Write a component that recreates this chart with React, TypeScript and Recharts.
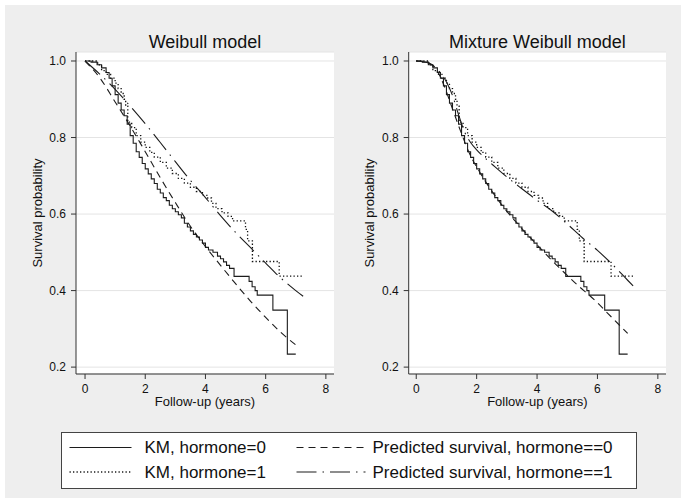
import React from 'react';
import { LineChart, Line, XAxis, YAxis, CartesianGrid } from 'recharts';

const FONT = '"Liberation Sans", Arial, Helvetica, sans-serif';
const INK = '#1c1c1c';

const xTicks = [0, 2, 4, 6, 8];
const yTicks = [0.2, 0.4, 0.6, 0.8, 1.0];

type Pt = [number, number];

// Kaplan-Meier estimates, [years, survival]
const km0: Pt[] = [
  [0, 1], [0.2, 0.997], [0.4, 0.99], [0.55, 0.982], [0.7, 0.97], [0.8, 0.955],
  [0.9, 0.935], [1.0, 0.912], [1.1, 0.89], [1.2, 0.872], [1.3, 0.857], [1.4, 0.835],
  [1.5, 0.805], [1.6, 0.785], [1.7, 0.763], [1.8, 0.748], [1.9, 0.732], [2.0, 0.718],
  [2.1, 0.705], [2.2, 0.692], [2.3, 0.68], [2.4, 0.665], [2.5, 0.655], [2.6, 0.643],
  [2.7, 0.635], [2.8, 0.623], [2.9, 0.614], [3.0, 0.606], [3.1, 0.598], [3.2, 0.59],
  [3.3, 0.576], [3.4, 0.566], [3.5, 0.556], [3.6, 0.547], [3.7, 0.54], [3.8, 0.532],
  [3.9, 0.524], [4.0, 0.513], [4.1, 0.506], [4.25, 0.5], [4.4, 0.49], [4.5, 0.483],
  [4.6, 0.475], [4.7, 0.466], [4.8, 0.458], [4.95, 0.437], [5.45, 0.424], [5.55, 0.41],
  [5.65, 0.4], [5.72, 0.388], [6.24, 0.349], [6.72, 0.234], [7.0, 0.234],
];

const km1: Pt[] = [
  [0, 1], [0.42, 0.99], [0.55, 0.975], [0.7, 0.965], [0.85, 0.955], [1.0, 0.942],
  [1.1, 0.928], [1.2, 0.915], [1.3, 0.9], [1.35, 0.882], [1.42, 0.84], [1.55, 0.826],
  [1.7, 0.805], [1.85, 0.788], [2.0, 0.774], [2.15, 0.761], [2.3, 0.749], [2.5, 0.735],
  [2.7, 0.72], [2.9, 0.706], [3.1, 0.693], [3.3, 0.681], [3.5, 0.67], [3.7, 0.659],
  [3.9, 0.649], [4.05, 0.642], [4.2, 0.628], [4.35, 0.614], [4.55, 0.603], [4.75, 0.594],
  [4.9, 0.582], [5.33, 0.56], [5.4, 0.53], [5.56, 0.476], [6.45, 0.438], [7.2, 0.438],
];

// Weibull model predictions
const weib0: Pt[] = [
  [0, 1], [0.5, 0.955], [1.0, 0.893], [1.5, 0.83], [2.0, 0.763], [2.5, 0.695],
  [3.0, 0.63], [3.5, 0.568], [4.0, 0.515], [4.5, 0.466], [5.0, 0.418], [5.5, 0.372],
  [6.0, 0.33], [6.5, 0.291], [7.0, 0.258],
];
const weib1: Pt[] = [
  [0, 1], [0.5, 0.965], [1.0, 0.926], [1.5, 0.882], [2.0, 0.836], [2.5, 0.787],
  [3.0, 0.737], [3.5, 0.688], [4.0, 0.643], [4.5, 0.596], [5.0, 0.552], [5.5, 0.512],
  [6.0, 0.472], [6.5, 0.433], [7.0, 0.4], [7.3, 0.382],
];

// Mixture Weibull model predictions
const mix0: Pt[] = [
  [0, 1], [0.3, 0.997], [0.6, 0.985], [0.9, 0.94], [1.2, 0.875], [1.5, 0.81],
  [1.8, 0.752], [2.1, 0.71], [2.4, 0.672], [2.7, 0.638], [3.0, 0.607], [3.3, 0.58],
  [3.6, 0.553], [3.9, 0.528], [4.2, 0.503], [4.5, 0.478], [4.8, 0.455], [5.1, 0.432],
  [5.4, 0.41], [5.7, 0.39], [6.0, 0.368], [6.35, 0.34], [6.7, 0.312], [7.0, 0.288],
];
const mix1: Pt[] = [
  [0, 1], [0.4, 0.995], [0.7, 0.978], [1.0, 0.945], [1.2, 0.91], [1.4, 0.86],
  [1.6, 0.815], [1.8, 0.787], [2.0, 0.768], [2.3, 0.745], [2.6, 0.724], [3.0, 0.697],
  [3.5, 0.666], [4.0, 0.636], [4.5, 0.608], [5.0, 0.574], [5.5, 0.538], [6.0, 0.505],
  [6.5, 0.468], [7.0, 0.427], [7.3, 0.403],
];

const legendLabels = [
  'KM, hormone=0',
  'KM, hormone=1',
  'Predicted survival, hormone==0',
  'Predicted survival, hormone==1',
];

const rows = (pts: Pt[]) => pts.map(([t, s]) => ({ t, s }));

const DOT = '1.3 2.2';
const DASH = '7 5';
const DASHDOT = '20 6 1.5 6';

interface PanelProps {
  title: string;
  left: number;
  marginLeft: number;
  marginRight: number;
  xDomain: [number, number];
  pred0: Pt[];
  pred1: Pt[];
}

const Panel: React.FC<PanelProps> = ({ title, left, marginLeft, marginRight, xDomain, pred0, pred1 }) => {
  const W = 338;
  const plotLeft = marginLeft + 51;
  const plotRight = W - marginRight;
  return (
    <div style={{ position: 'absolute', left, top: 5, width: W, height: 415 }}>
      <div
        style={{
          position: 'absolute', top: 27.8, left: plotLeft, width: plotRight - plotLeft,
          textAlign: 'center', fontSize: 18, lineHeight: '18px', fontFamily: FONT, color: '#111',
        }}
      >
        {title}
      </div>
      <LineChart width={W} height={415} margin={{ top: 47, right: marginRight, bottom: 14, left: marginLeft }}>
        <CartesianGrid vertical={false} stroke="#e4e4e4" fill="#ffffff" />
        <XAxis
          dataKey="t"
          type="number"
          domain={xDomain}
          ticks={xTicks}
          allowDataOverflow
          height={32}
          tickSize={5}
          tickMargin={5}
          tick={{ fill: '#111', fontSize: 12, fontFamily: FONT }}
          axisLine={{ stroke: '#333' }}
          tickLine={{ stroke: '#333' }}
          label={{ value: 'Follow-up (years)', position: 'insideBottom', offset: 0, fill: '#111', fontSize: 13, fontFamily: FONT }}
        />
        <YAxis
          type="number"
          domain={[0.182, 1.0235]}
          ticks={yTicks}
          allowDataOverflow
          width={51}
          tickSize={5}
          tickMargin={5}
          tickFormatter={(v: number) => v.toFixed(1)}
          tick={{ fill: '#111', fontSize: 12, fontFamily: FONT }}
          axisLine={{ stroke: '#333' }}
          tickLine={{ stroke: '#333' }}
          label={{
            value: 'Survival probability', angle: -90, position: 'insideLeft', offset: 12,
            fill: '#111', fontSize: 13, fontFamily: FONT, style: { textAnchor: 'middle' },
          }}
        />
        <Line data={rows(km0)} dataKey="s" type="stepAfter" stroke={INK} strokeWidth={1.1} dot={false} isAnimationActive={false} />
        <Line data={rows(km1)} dataKey="s" type="stepAfter" stroke="#111" strokeWidth={1.3} strokeDasharray={DOT} dot={false} isAnimationActive={false} />
        <Line data={rows(pred0)} dataKey="s" type="monotone" stroke={INK} strokeWidth={1.1} strokeDasharray={DASH} dot={false} isAnimationActive={false} />
        <Line data={rows(pred1)} dataKey="s" type="monotone" stroke={INK} strokeWidth={1.1} strokeDasharray={DASHDOT} dot={false} isAnimationActive={false} />
      </LineChart>
    </div>
  );
};

const LegendBox: React.FC = () => {
  const dashes = [undefined, DOT, DASH, DASHDOT];
  const pos = [
    { x1: 8.5, x2: 70.5, tx: 83.5, y: 15.5, by: 21.3 },
    { x1: 8.5, x2: 70.5, tx: 83.5, y: 40, by: 46.3 },
    { x1: 235.5, x2: 304.5, tx: 311.5, y: 15.5, by: 21.3 },
    { x1: 235.5, x2: 304.5, tx: 311.5, y: 40, by: 46.3 },
  ];
  return (
    <svg style={{ position: 'absolute', left: 61, top: 432 }} width={576} height={57}>
      <rect x={0.5} y={0.5} width={575} height={56} fill="#ffffff" stroke="#444" strokeWidth={1} />
      {legendLabels.map((lab, i) => (
        <g key={lab}>
          <line
            x1={pos[i].x1} x2={pos[i].x2} y1={pos[i].y} y2={pos[i].y}
            stroke={INK} strokeWidth={i === 1 ? 1.3 : 1.1} strokeDasharray={dashes[i]}
          />
          <text x={pos[i].tx} y={pos[i].by} fontSize={17} fontFamily={FONT} fill="#111">{lab}</text>
        </g>
      ))}
    </svg>
  );
};

export default function App() {
  return (
    <div style={{ position: 'absolute', left: 0, top: 0, width: 686, height: 503, background: '#ffffff' }}>
      <div style={{ position: 'absolute', left: 5, top: 5, width: 676, height: 493, background: '#eeeeee' }} />
      <Panel title="Weibull model" left={5} marginLeft={20} marginRight={9} xDomain={[-0.3, 8.27]} pred0={weib0} pred1={weib1} />
      <Panel title="Mixture Weibull model" left={343} marginLeft={14.7} marginRight={15} xDomain={[-0.25, 8.27]} pred0={mix0} pred1={mix1} />
      <LegendBox />
    </div>
  );
}
